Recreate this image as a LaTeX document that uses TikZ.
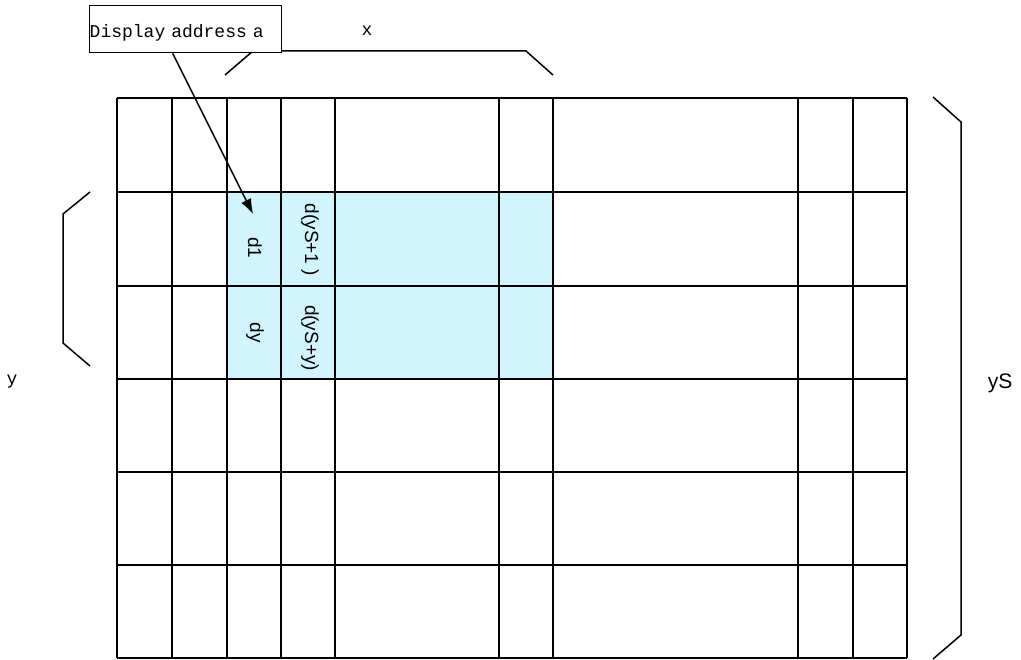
\documentclass[tikz,border=0pt]{standalone}
\usepackage{fontspec}
\setsansfont{Liberation Sans}
\newfontfamily\labelfont{Liberation Mono}
\usetikzlibrary{arrows.meta}

\definecolor{cellblue}{RGB}{210,244,252}

\tikzset{
  gridline/.style={line width=1.3pt, black},
  brace/.style={line width=1.5pt, line join=miter},
  celltext/.style={font=\sffamily\fontsize{19}{22}\selectfont, rotate=-90, inner sep=0pt},
  plaintext/.style={font=\labelfont\fontsize{18}{21}\selectfont, inner sep=0pt}
}

\begin{document}
\begin{tikzpicture}[x=1pt, y=-1pt]

\useasboundingbox (0,0) rectangle (1021,660);

% shaded display window
\fill[cellblue] (227,192) rectangle (553,379);

% grid
\foreach \gx in {117,172,227,281,335,499,553,798,853,907}
  \draw[gridline] (\gx,98) -- (\gx,658);
\foreach \gy in {98,192,286,379,472,565,658}
  \draw[gridline] (117,\gy) -- (907,\gy);

% cell labels
\node[celltext] (d1) at (255,248) {d1};
\node[celltext] (dS1) at (310,240) {d(yS+1 )};
\node[celltext] (dy) at (255,333) {dy};
\node[celltext] (dSy) at (310,338) {d(yS+y)};

% brackets
\draw[brace] (225,75) -- (253,51) -- (526,51) -- (553,75);
\draw[brace] (90,192) -- (63,214) -- (63,343) -- (90,366);
\draw[brace] (933,97) -- (961,122) -- (961,635) -- (933,659);

% label box
\node[draw, line width=1.4pt, fill=white, anchor=north west, minimum height=47pt,
      text width=192pt, inner xsep=1pt, align=left, plaintext] (addr) at (89,5)
      {\raisebox{-8pt}[0pt][0pt]{Display address a}};

\coordinate (a1) at (253,214);
\draw[line width=1.4pt, -{Latex[length=15pt,width=11pt]}] ([xshift=-13pt]addr.south) -- (a1);

% dimension names
\node[plaintext] (xlab) at (367,31) {x};
\node[plaintext] (ylab) at (12,382) {y};
\node[font=\sffamily\fontsize{21}{24}\selectfont, inner sep=0pt] (yslab) at (1000,383) {yS};

\end{tikzpicture}
\end{document}
